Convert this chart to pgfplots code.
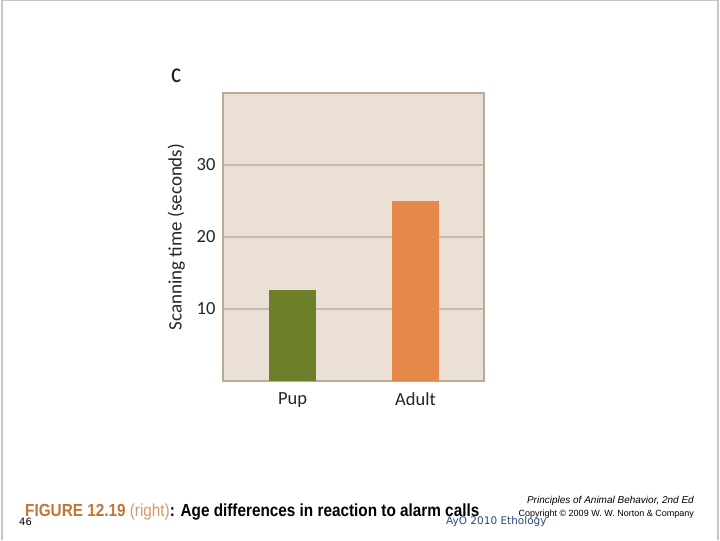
\documentclass[border=0pt]{standalone}
\usepackage{pgfplots}
\pgfplotsset{compat=1.18}
\usepackage{fontspec}
\setmainfont{Carlito}
\newfontfamily\arial{Liberation Sans}
\newfontfamily\dejavu{DejaVu Sans}

\definecolor{panelbg}{HTML}{EBE0D6}
\definecolor{gridc}{HTML}{C9B9A9}
\definecolor{framec}{HTML}{BBAA98}
\definecolor{pupc}{HTML}{6E7F2A}
\definecolor{adultc}{HTML}{E5884A}
\definecolor{figc}{HTML}{C0763A}
\definecolor{rightc}{HTML}{DA9862}
\definecolor{ayoc}{HTML}{2A4A7A}

\begin{document}
\begin{tikzpicture}[x=1bp,y=1bp]
% page
\fill[white] (0,0) rectangle (720,540);
\draw[gray!45, line width=1.5bp] (2,0) -- (2,539.3) -- (718,539.3) -- (718,0);
\path[use as bounding box] (0,0) rectangle (720,540);

\begin{axis}[
    at={(223bp,159bp)}, anchor=south west,
    scale only axis,
    width=261bp, height=288bp,
    xmin=-0.565, xmax=1.557,
    ymin=0, ymax=40,
    axis background/.style={fill=panelbg},
    axis line style={framec, line width=1.6bp},
    ytick={10,20,30},
    ymajorgrids,
    major grid style={gridc, line width=1.3bp},
    xtick={0,1},
    xticklabels={Pup, Adult},
    tick style={draw=none},
    ticklabel style={font=\fontsize{18.5bp}{20bp}\selectfont, text=black!85},
    yticklabel style={xshift=-4bp},
    xticklabel style={yshift=-4bp},
    ylabel={Scanning time (seconds)},
    ylabel style={font=\fontsize{19bp}{20bp}\selectfont, text=black!85, yshift=5bp},
    /pgf/number format/assume math mode=true,
    ybar, bar width=0.382, bar shift=0pt,
    clip=false,
]
\addplot[fill=pupc, draw=none] coordinates {(0,12.6)};
\addplot[fill=adultc, draw=none] coordinates {(1,25.0)};
\end{axis}

\node[anchor=base west, font=\fontsize{28bp}{28bp}\selectfont, text=black!90, inner sep=0, xscale=0.85] at (171,458) {c};

% caption strip
\node[anchor=base west, inner sep=0, xscale=0.875, font=\arial\bfseries\fontsize{17.5bp}{18bp}\selectfont] at (25,24)
  {\textcolor{figc}{FIGURE 12.19} {\mdseries\textcolor{rightc}{(right)}}: Age differences in reaction to alarm calls};
\node[anchor=base east, inner sep=0, font=\arial\itshape\fontsize{10bp}{11bp}\selectfont] at (694,37)
  {Principles of Animal Behavior, 2nd Ed};
\node[anchor=base east, inner sep=0, font=\arial\fontsize{9bp}{10bp}\selectfont] at (694,24)
  {Copyright \textcopyright{} 2009 W. W. Norton \& Company};
\node[anchor=base west, inner sep=0, font=\dejavu\fontsize{10bp}{11bp}\selectfont] at (19,15) {46};
\node[anchor=base west, inner sep=0, font=\dejavu\fontsize{10.5bp}{11bp}\selectfont, text=ayoc] at (446,16) {AyO 2010 Ethology};
\end{tikzpicture}
\end{document}
